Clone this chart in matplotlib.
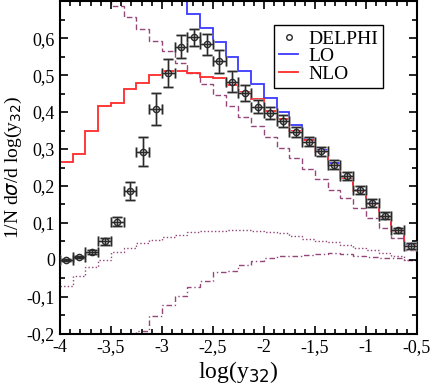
"""Jet-rate distribution in log(y32): DELPHI data vs LO / NLO histograms."""
import numpy as np
import matplotlib
matplotlib.use("Agg")
import matplotlib.pyplot as plt
from matplotlib.lines import Line2D
from matplotlib.ticker import MultipleLocator, FuncFormatter

# --- data (28 bins of width 0.125 from -4 to -0.5) ----

edges = np.linspace(-4.0, -0.5, 29)

delphi = [0.000, 0.008, 0.022, 0.050, 0.103, 0.187, 0.293, 0.408, 0.505, 0.577,
          0.603, 0.583, 0.537, 0.482, 0.451, 0.415, 0.397, 0.376, 0.346, 0.320,
          0.294, 0.258, 0.227, 0.189, 0.154, 0.120, 0.080, 0.037]
delphi_err = [0.003, 0.004, 0.006, 0.009, 0.012, 0.025, 0.039, 0.043, 0.038, 0.031,
              0.023, 0.028, 0.031, 0.029, 0.021, 0.018, 0.016, 0.016, 0.014, 0.013,
              0.012, 0.012, 0.011, 0.011, 0.010, 0.009, 0.006, 0.008]

# bins 0-9 of LO lie above the frame; values there are rough guesses
lo = [1.10, 1.05, 1.00, 0.96, 0.92, 0.87, 0.83, 0.79, 0.75, 0.71,
      0.666, 0.627, 0.589, 0.550, 0.512, 0.476, 0.437, 0.399, 0.364, 0.327,
      0.298, 0.261, 0.226, 0.190, 0.155, 0.120, 0.082, 0.040]
nlo = [0.265, 0.287, 0.348, 0.416, 0.425, 0.462, 0.479, 0.499, 0.510, 0.510,
       0.506, 0.496, 0.492, 0.473, 0.455, 0.435, 0.404, 0.381, 0.350, 0.324,
       0.293, 0.257, 0.222, 0.186, 0.152, 0.117, 0.079, 0.037]

# purple auxiliary curves (bins off the frame guessed)
dashed = [0.80, 0.77, 0.74, 0.71, 0.686, 0.657, 0.624, 0.593, 0.565, 0.533,
          0.505, 0.475, 0.447, 0.417, 0.388, 0.361, 0.333, 0.303, 0.275, 0.246,
          0.218, 0.190, 0.168, 0.141, 0.113, 0.087, 0.060, 0.028]
dotted = [-0.071, -0.044, -0.020, 0.001, 0.021, 0.032, 0.046, 0.055, 0.061, 0.068,
          0.075, 0.077, 0.078, 0.080, 0.080, 0.078, 0.075, 0.072, 0.066, 0.058,
          0.052, 0.048, 0.040, 0.031, 0.026, 0.019, 0.010, 0.001]
dashdot = [-0.45, -0.40, -0.35, -0.30, -0.26, -0.22, -0.193, -0.151, -0.121, -0.098,
           -0.074, -0.058, -0.032, -0.030, -0.013, -0.002, 0.005, 0.011, 0.012, 0.013,
           0.017, 0.019, 0.016, 0.011, 0.008, 0.005, 0.004, 0.000]

BLUE, RED, PURPLE, INK = "#3a3aff", "#ff2a2a", "#94477a", "#2a2a2a"

plt.rcParams["font.family"] = ["Liberation Serif", "DejaVu Serif"]
plt.rcParams["axes.unicode_minus"] = False


def comma(v, _pos):
    if abs(v) < 1e-9:
        return "0"
    if v > 0.65:          # top edge of the frame is left unlabelled
        return ""
    s = f"{v:.0f}" if abs(v - round(v)) < 1e-9 else f"{v:.1f}"
    return s.replace(".", ",")


fig = plt.figure(figsize=(4.31, 3.86), dpi=100)
ax = fig.add_axes([0.139, 0.135, 0.8285, 0.862])

centers = 0.5 * (edges[:-1] + edges[1:])
halfw = 0.5 * np.diff(edges)

ax.stairs(dashed, edges, baseline=None, color=PURPLE, lw=1.0, ls=(0, (4, 2)))
ax.stairs(dotted, edges, baseline=None, color=PURPLE, lw=1.0, ls=(0, (1, 1.6)))
ax.stairs(dashdot, edges, baseline=None, color=PURPLE, lw=1.0, ls=(0, (4, 2, 1, 2)))
ax.stairs(lo, edges, baseline=None, color=BLUE, lw=1.3)
ax.stairs(nlo, edges, baseline=None, color=RED, lw=1.3)

# faint gray halo under the error bars, then the dark bars on top
ax.errorbar(centers, delphi, xerr=halfw, yerr=delphi_err, fmt="none",
            ecolor="#b4b4b4", elinewidth=1.8, capsize=3.5, capthick=1.8, zorder=4)
ax.errorbar(centers, delphi, xerr=halfw, yerr=delphi_err, fmt="o", ms=4.5,
            mfc="none", mec=INK, mew=1.0, ecolor=INK, elinewidth=0.9,
            capsize=3.5, capthick=0.9, zorder=5)

ax.set_xlim(-4.0, -0.5)
ax.set_ylim(-0.2, 0.7)
ax.xaxis.set_major_locator(MultipleLocator(0.5))
ax.xaxis.set_minor_locator(MultipleLocator(0.1))
ax.yaxis.set_major_locator(MultipleLocator(0.1))
ax.yaxis.set_minor_locator(MultipleLocator(0.05))
ax.xaxis.set_major_formatter(FuncFormatter(comma))
ax.yaxis.set_major_formatter(FuncFormatter(comma))
ax.tick_params(which="both", direction="in", top=True, right=True, labelsize=13,
               width=1.2, colors="black")
ax.tick_params(which="major", length=6)
ax.tick_params(which="minor", length=3.5)
for sp in ax.spines.values():
    sp.set_linewidth(1.5)

ax.set_xlabel(r"log(y$_{32}$)", fontsize=17, labelpad=2)
ax.set_ylabel(r"1/N d$\sigma$/d log(y$_{32}$)", fontsize=14, labelpad=2)

handles = [Line2D([], [], ls="none", marker="o", ms=4, mfc="none", mec=INK, mew=1.0),
           Line2D([], [], color=BLUE, lw=1.3),
           Line2D([], [], color=RED, lw=1.3)]
leg = ax.legend(handles, ["DELPHI", "LO", "NLO"], loc="upper left",
                bbox_to_anchor=(0.5995, 0.928), borderaxespad=0, fontsize=14,
                handlelength=1.0, handletextpad=0.5, borderpad=0.25,
                labelspacing=0.0, fancybox=False, framealpha=1, edgecolor="black")
leg.get_frame().set_linewidth(1.0)

fig.savefig("out.png", dpi=100)
